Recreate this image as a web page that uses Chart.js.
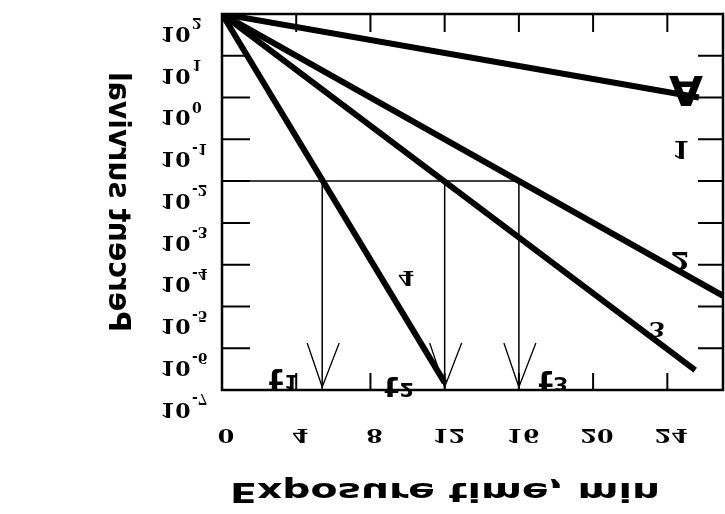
<!DOCTYPE html>
<html>
<head>
<meta charset="utf-8">
<script src="https://cdn.jsdelivr.net/npm/chart.js@4.4.0/dist/chart.umd.min.js"></script>
<style>
  html, body { margin: 0; padding: 0; background: #fff; }
  #chart { display: block; }
</style>
</head>
<body>
<canvas id="chart" width="725" height="514"></canvas>
<script>
// survival curves, time in min, survival in percent
const timeA = [0, 25.7];
const survivalA = [100, 1];
const time2 = [0, 27];
const survival2 = [100, 1.8e-5];
const time3 = [0, 25.5];
const survival3 = [100, 3e-7];
const time4 = [0, 12];
const survival4 = [100, 1.5e-7];

// reading level and the times where the curves cross it
const markLevel = 0.01;
const markTimes = [5.4, 12, 16];
const markNames = ['1', '2', '3'];

// axis ticks
const timeTicks = [0, 4, 8, 12, 16, 20, 24];
const survivalTicks = [1e2, 1e1, 1e0, 1e-1, 1e-2, 1e-3, 1e-4, 1e-5, 1e-6, 1e-7];

const serif = '"DejaVu Serif", "Liberation Serif", serif';
const sans = '"DejaVu Sans", "Liberation Sans", sans-serif';

function toPoints(xs, ys) {
    return xs.map((x, i) => ({ x: x, y: ys[i] }));
}

// text in this figure is drawn with each glyph upside down
function flipText(ctx, text, x, y, size, family, sx, align) {
    ctx.save();
    ctx.font = 'bold ' + size + 'px ' + family;
    ctx.textAlign = align || 'center';
    ctx.textBaseline = 'middle';
    ctx.translate(x, y);
    ctx.scale(sx, -1);
    ctx.fillText(text, 0, 0);
    ctx.restore();
}

function fitWidth(ctx, text, size, family, width) {
    ctx.save();
    ctx.font = 'bold ' + size + 'px ' + family;
    const w = ctx.measureText(text).width;
    ctx.restore();
    return width / w;
}

const datasets = [];
datasets.push({
    data: toPoints([0, markTimes[2]], [markLevel, markLevel]),
    borderColor: '#000', borderWidth: 1.5
});
markTimes.forEach(t => {
    datasets.push({
        data: toPoints([t, t], [markLevel, survivalTicks[survivalTicks.length - 1]]),
        borderColor: '#000', borderWidth: 1.5
    });
});
[[timeA, survivalA], [time2, survival2], [time3, survival3], [time4, survival4]].forEach(c => {
    datasets.push({
        data: toPoints(c[0], c[1]),
        borderColor: '#000', borderWidth: 6
    });
});

const decorations = {
    id: 'decorations',
    afterDraw(chart) {
        const ctx = chart.ctx;
        const area = chart.chartArea;
        const xs = chart.scales.x;
        const ys = chart.scales.y;
        ctx.save();
        ctx.fillStyle = '#000';
        ctx.strokeStyle = '#000';

        // frame
        ctx.lineWidth = 2.5;
        ctx.strokeRect(area.left, area.top, area.right - area.left, area.bottom - area.top);

        // inward ticks
        ctx.lineWidth = 2;
        ctx.beginPath();
        survivalTicks.forEach(v => {
            const py = ys.getPixelForValue(v);
            if (py <= area.top + 1 || py >= area.bottom - 1) return;
            ctx.moveTo(area.left, py);
            ctx.lineTo(area.left + 28, py);
            ctx.moveTo(area.right, py);
            ctx.lineTo(area.right - 25, py);
        });
        timeTicks.forEach(t => {
            if (t === 0) return;
            const px = xs.getPixelForValue(t);
            ctx.moveTo(px, area.top);
            ctx.lineTo(px, area.top + 18);
            ctx.moveTo(px, area.bottom);
            ctx.lineTo(px, area.bottom - 17);
        });
        ctx.stroke();

        // open arrow heads at the bottom of the reading lines
        ctx.lineWidth = 1.3;
        ctx.beginPath();
        markTimes.forEach(t => {
            const px = xs.getPixelForValue(t);
            const tip = area.bottom - 3;
            ctx.moveTo(px - 15, tip - 44);
            ctx.lineTo(px, tip);
            ctx.lineTo(px + 17, tip - 44);
        });
        ctx.stroke();

        // y tick labels: 10 with exponent
        survivalTicks.forEach(v => {
            const py = ys.getPixelForValue(v);
            const e = Math.round(Math.log10(v));
            flipText(ctx, '10', 160, py + 18, 20, serif, 1.1, 'left');
            flipText(ctx, String(e), 192, py + 8, 14, serif, 1.0, 'left');
        });

        // x tick labels
        timeTicks.forEach(t => {
            const px = xs.getPixelForValue(t);
            flipText(ctx, String(t), px + 4, 434, 19, serif, 1.25, 'center');
        });

        // reading times t1, t2, t3
        const nameOffsets = [[-46, -10], [-53, -2], [27, -8]];
        markTimes.forEach((t, i) => {
            const px = xs.getPixelForValue(t) + nameOffsets[i][0];
            const py = area.bottom + nameOffsets[i][1];
            flipText(ctx, 't', px, py - 4, 28, sans, 1.1, 'center');
            flipText(ctx, markNames[i], px + 15, py, 19, sans, 1.1, 'center');
        });

        // curve labels
        flipText(ctx, 'A', 686, 86, 40, sans, 1.1, 'center');
        flipText(ctx, '1', 681, 147, 24, serif, 1.1, 'center');
        flipText(ctx, '2', 680, 258, 25, serif, 1.1, 'center');
        flipText(ctx, '3', 657, 327, 21, serif, 1.1, 'center');
        flipText(ctx, '4', 406, 276, 20, serif, 1.2, 'center');

        // axis titles
        const xTitle = 'Exposure time, min';
        flipText(ctx, xTitle, 445, 490, 27, sans, fitWidth(ctx, xTitle, 27, sans, 430), 'center');

        const yTitle = 'Percent survival';
        ctx.save();
        ctx.translate(117, 202);
        ctx.rotate(-Math.PI / 2);
        flipText(ctx, yTitle, 0, 0, 30, sans, fitWidth(ctx, yTitle, 30, sans, 260), 'center');
        ctx.restore();

        ctx.restore();
    }
};

new Chart(document.getElementById('chart'), {
    type: 'scatter',
    data: { datasets: datasets },
    options: {
        responsive: false,
        animation: false,
        showLine: true,
        elements: { point: { radius: 0, hoverRadius: 0 } },
        layout: { padding: { left: 222, top: 14, right: 2, bottom: 124 } },
        plugins: { legend: { display: false }, tooltip: { enabled: false } },
        scales: {
            x: { type: 'linear', min: 0, max: 27, display: false },
            y: { type: 'logarithmic', min: 1e-7, max: 100, display: false }
        }
    },
    plugins: [decorations]
});
</script>
</body>
</html>
